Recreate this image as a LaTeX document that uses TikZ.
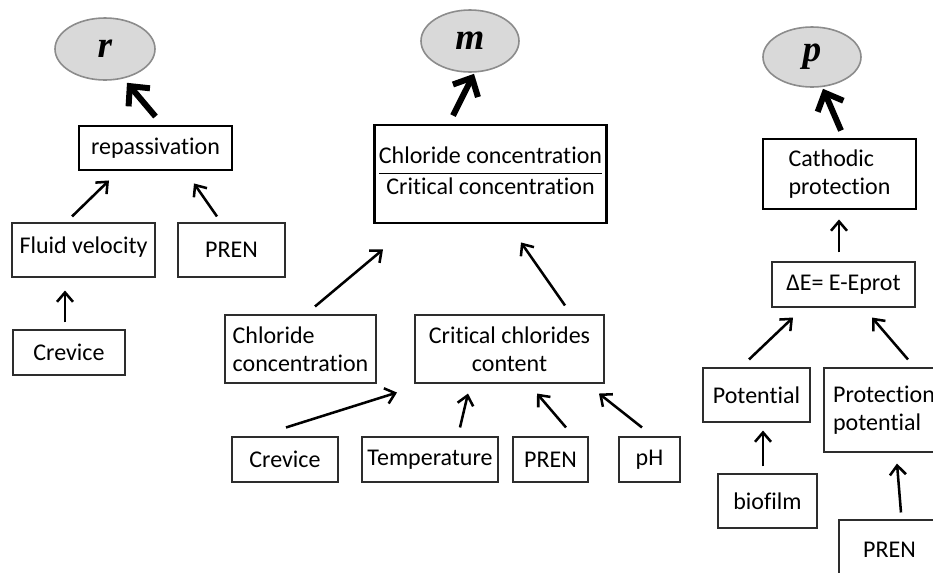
\documentclass[tikz,border=0pt]{standalone}
\usepackage{fontspec}
\setmainfont{Carlito}[Ligatures={NoCommon,NoRequired,NoContextual}, Contextuals=NoAlternate]
\newfontfamily\varfont{Liberation Serif}
\usepackage{amsmath}
\usetikzlibrary{shapes.geometric, arrows.meta}
\definecolor{ovalfill}{RGB}{217, 217, 217}
\definecolor{ovaldraw}{RGB}{140, 140, 140}
\definecolor{boxline}{RGB}{45, 45, 45}

\begin{document}
\begin{tikzpicture}[x=0.75pt, y=-0.75pt,
  sz/.style 2 args={minimum width=#1*0.75pt, minimum height=#2*0.75pt},
  oval/.style={ellipse, draw=ovaldraw, line width=1.2pt, fill=ovalfill, inner sep=0pt,
    font=\varfont\bfseries\itshape\fontsize{28}{28}\selectfont},
  thinbox/.style={draw=boxline, line width=0.8pt, inner sep=2pt, font=\fontsize{18}{21}\selectfont},
  thickbox/.style={draw=black, line width=2.2pt, inner sep=2pt, font=\fontsize{18}{21}\selectfont},
  arr/.style={line width=1.9pt, -{Straight Barb[length=7pt, width=12pt]}},
  bigarr/.style={line width=4.5pt, -{Straight Barb[length=11pt, width=21pt]}}]
  \useasboundingbox (0,0) rectangle (933,572);
  \clip (0,0) rectangle (933,572);

  % Repassivation tree
  \node[oval, sz={100}{62}] (r) at (105,49) {r};
  \node[thickbox, sz={153}{44}] (repass) at (155.5,148) {repassivation};
  \node[thinbox, sz={143}{54}] (fluid) at (83.5,250) {Fluid velocity\rule[-8pt]{0pt}{1pt}};
  \node[thinbox, sz={107}{54}] (prenA) at (231.5,250) {PREN};
  \node[thinbox, sz={112}{45}] (creviceA) at (69,352.5) {Crevice};
  \draw[bigarr] ([shift={(0,-8)}]repass.north) -- ([shift={(22,2)}]r.south);
  \draw[arr] ([shift={(-11.5,-6)}]fluid.north) -- ([shift={(-46.5,9)}]repass.south);
  \draw[arr] ([shift={(-14.5,-6)}]prenA.north) -- ([shift={(38.5,12)}]repass.south);
  \draw[arr] ([shift={(-4,-7)}]creviceA.north) -- ([shift={(-18.5,13)}]fluid.south);

  % Chloride ratio tree
  \node[oval, sz={98}{62}] (m) at (470,41) {m};
  \node[thickbox, sz={229}{98}] (ratio) at (490.5,174)
    {$\dfrac{\text{Chloride concentration}}{\text{Critical concentration}}\rule[-17pt]{0pt}{1pt}$};
  \node[thinbox, sz={151}{68}, align=left] (chlor) at (300.5,349) {Chloride\\concentration};
  \node[thinbox, sz={189}{68}, align=center] (crit) at (509.5,349) {Critical chlorides\\content};
  \node[thinbox, sz={106}{45}] (creviceB) at (285,459.5) {Crevice};
  \node[thinbox, sz={136}{45}] (temp) at (430,459.5) {Temperature};
  \node[thinbox, sz={75}{45}] (prenB) at (550.5,459.5) {PREN};
  \node[thinbox, sz={61}{45}] (ph) at (649.5,459.5) {pH};
  \draw[bigarr] ([shift={(-37.5,-8)}]ratio.north) -- ([shift={(4,1)}]m.south);
  \draw[arr] ([shift={(14.5,-8)}]chlor.north) -- ([shift={(-107.5,25)}]ratio.south);
  \draw[arr] ([shift={(55.5,-9)}]crit.north) -- ([shift={(30.5,18)}]ratio.south);
  \draw[arr] ([shift={(1,-9)}]creviceB.north) -- ([shift={(-112.5,9)}]crit.south);
  \draw[arr] ([shift={(30,-9)}]temp.north) -- ([shift={(-41.5,10)}]crit.south);
  \draw[arr] ([shift={(15.5,-9)}]prenB.north) -- ([shift={(27.5,10)}]crit.south);
  \draw[arr] ([shift={(-7.5,-9)}]ph.north) -- ([shift={(89.5,10)}]crit.south);

  % Cathodic protection tree
  \node[oval, sz={98}{60}] (p) at (812,57) {p};
  \node[thickbox, sz={153}{70}, align=left] (cathodic) at (839.5,174) {Cathodic\\protection};
  \node[thinbox, sz={143}{45}] (deltaE) at (843.5,284.5) {ΔE= E-Eprot};
  \node[thinbox, sz={107}{54}] (potential) at (756.5,395) {Potential};
  \node[thinbox, sz={120}{84}, align=left] (protpot) at (884,410) {Protection\\potential};
  \node[thinbox, sz={99}{54}] (biofilm) at (767.5,501) {biofilm};
  \node[thinbox, sz={101}{60}] (prenC) at (889.5,550) {PREN};
  \draw[bigarr] ([shift={(1.5,-7)}]cathodic.north) -- ([shift={(11,1)}]p.south);
  \draw[arr] ([shift={(-4.5,-9)}]deltaE.north) -- ([shift={(-0.5,9)}]cathodic.south);
  \draw[arr] ([shift={(-7.5,-8)}]potential.north) -- ([shift={(-50.5,10)}]deltaE.south);
  \draw[arr] ([shift={(24,-8)}]protpot.north) -- ([shift={(28.5,10)}]deltaE.south);
  \draw[arr] ([shift={(-4.5,-7)}]biofilm.north) -- ([shift={(6.5,8)}]potential.south);
  \draw[arr] ([shift={(11.5,-7)}]prenC.north) -- ([shift={(13,11)}]protpot.south);
\end{tikzpicture}
\end{document}
